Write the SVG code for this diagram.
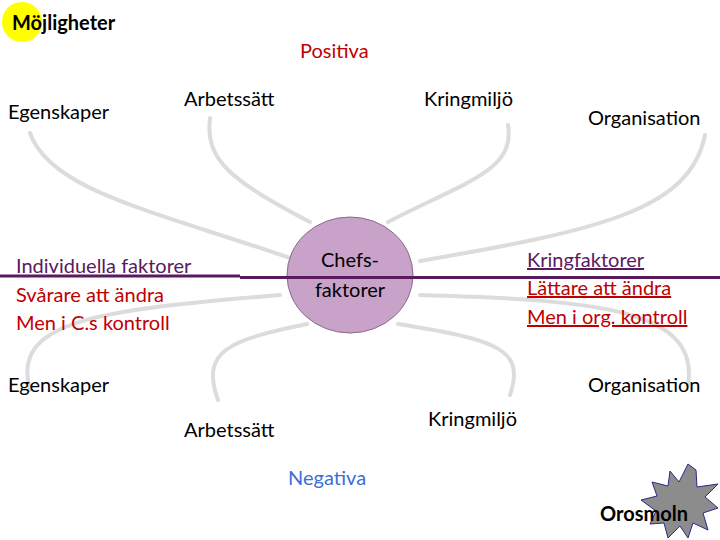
<svg xmlns="http://www.w3.org/2000/svg" width="720" height="540" viewBox="0 0 720 540">
<style>
text{font-family:Lato,"Noto Sans",sans-serif;font-size:20px;fill:#000}
.c{fill:none;stroke:#dcdcdc;stroke-width:4;stroke-linecap:round}
.r{fill:#c00000}
.p{fill:#5a1a5e}
.u{text-decoration:underline}
</style>
<rect width="720" height="540" fill="#fff"/>
<g id="connectors">
<path class="c" d="M290,258 C150,210 50,190 30,133"/>
<path class="c" d="M310,222 C230,180 205,160 210,118"/>
<path class="c" d="M388,222 C470,180 515,170 508,125"/>
<path class="c" d="M420,261 C600,230 690,210 705,135"/>
<path class="c" d="M280,295 C100,310 10,320 30,390"/>
<path class="c" d="M307,324 C230,340 200,350 218,400"/>
<path class="c" d="M398,324 C500,340 525,350 510,395"/>
<path class="c" d="M420,295 C600,300 700,310 688,385"/>
</g>
<g id="mojligheter">
<circle cx="22" cy="22" r="20" fill="#ffff00"/>
<text x="12" y="30" font-size="18" font-weight="bold">Möjligheter</text>
</g>
<text x="300" y="58" font-size="28" fill="#c00000" class="r">Positiva</text>
<text x="288" y="485" font-size="30" style="fill:#3b6fd6">Negativa</text>
<g id="chefs">
<ellipse cx="350" cy="275" rx="63" ry="58" fill="#c8a2c8" stroke="#8a6a8a" stroke-width="1"/>
<text x="350" y="267" text-anchor="middle">Chefs-</text>
<text x="350" y="297" text-anchor="middle">faktorer</text>
</g>
<g id="axis">
<path d="M0,276 H240 M240,277.5 H720" stroke="#5a1a5e" stroke-width="3" fill="none"/>
</g>
<g id="n-egen-top"><text x="8" y="119">Egenskaper</text></g>
<g id="n-arb-top"><text x="184" y="106">Arbetssätt</text></g>
<g id="n-kring-top"><text x="424" y="106">Kringmiljö</text></g>
<g id="n-org-top"><text x="588" y="125">Organisation</text></g>
<g id="n-egen-bot"><text x="8" y="392">Egenskaper</text></g>
<g id="n-arb-bot"><text x="184" y="437">Arbetssätt</text></g>
<g id="n-kring-bot"><text x="428" y="426">Kringmiljö</text></g>
<g id="n-org-bot"><text x="588" y="392">Organisation</text></g>
<g id="left-text">
<text x="16" y="273" class="p">Individuella faktorer</text>
<text x="16" y="302" class="r">Svårare att ändra</text>
<text x="16" y="330" class="r">Men i C.s kontroll</text>
</g>
<g id="right-text">
<text x="527" y="267" class="p u">Kringfaktorer</text>
<text x="527" y="295" class="r u">Lättare att ändra</text>
<text x="527" y="324" class="r u">Men i org. kontroll</text>
</g>
<g id="orosmoln">
<polygon points="696,470 697,487 718,484 705,497 718,508 703,513 708,530 693,523 688,538 680,526 668,538 664,523 650,524 656,511 641,500 657,496 652,482 668,486 670,471 679,482 688,464" fill="#8c8c8c" stroke="#2a2a8a" stroke-width="1"/>
<text x="600" y="521" font-size="18" font-weight="bold">Orosmoln</text>
</g>
</svg>
